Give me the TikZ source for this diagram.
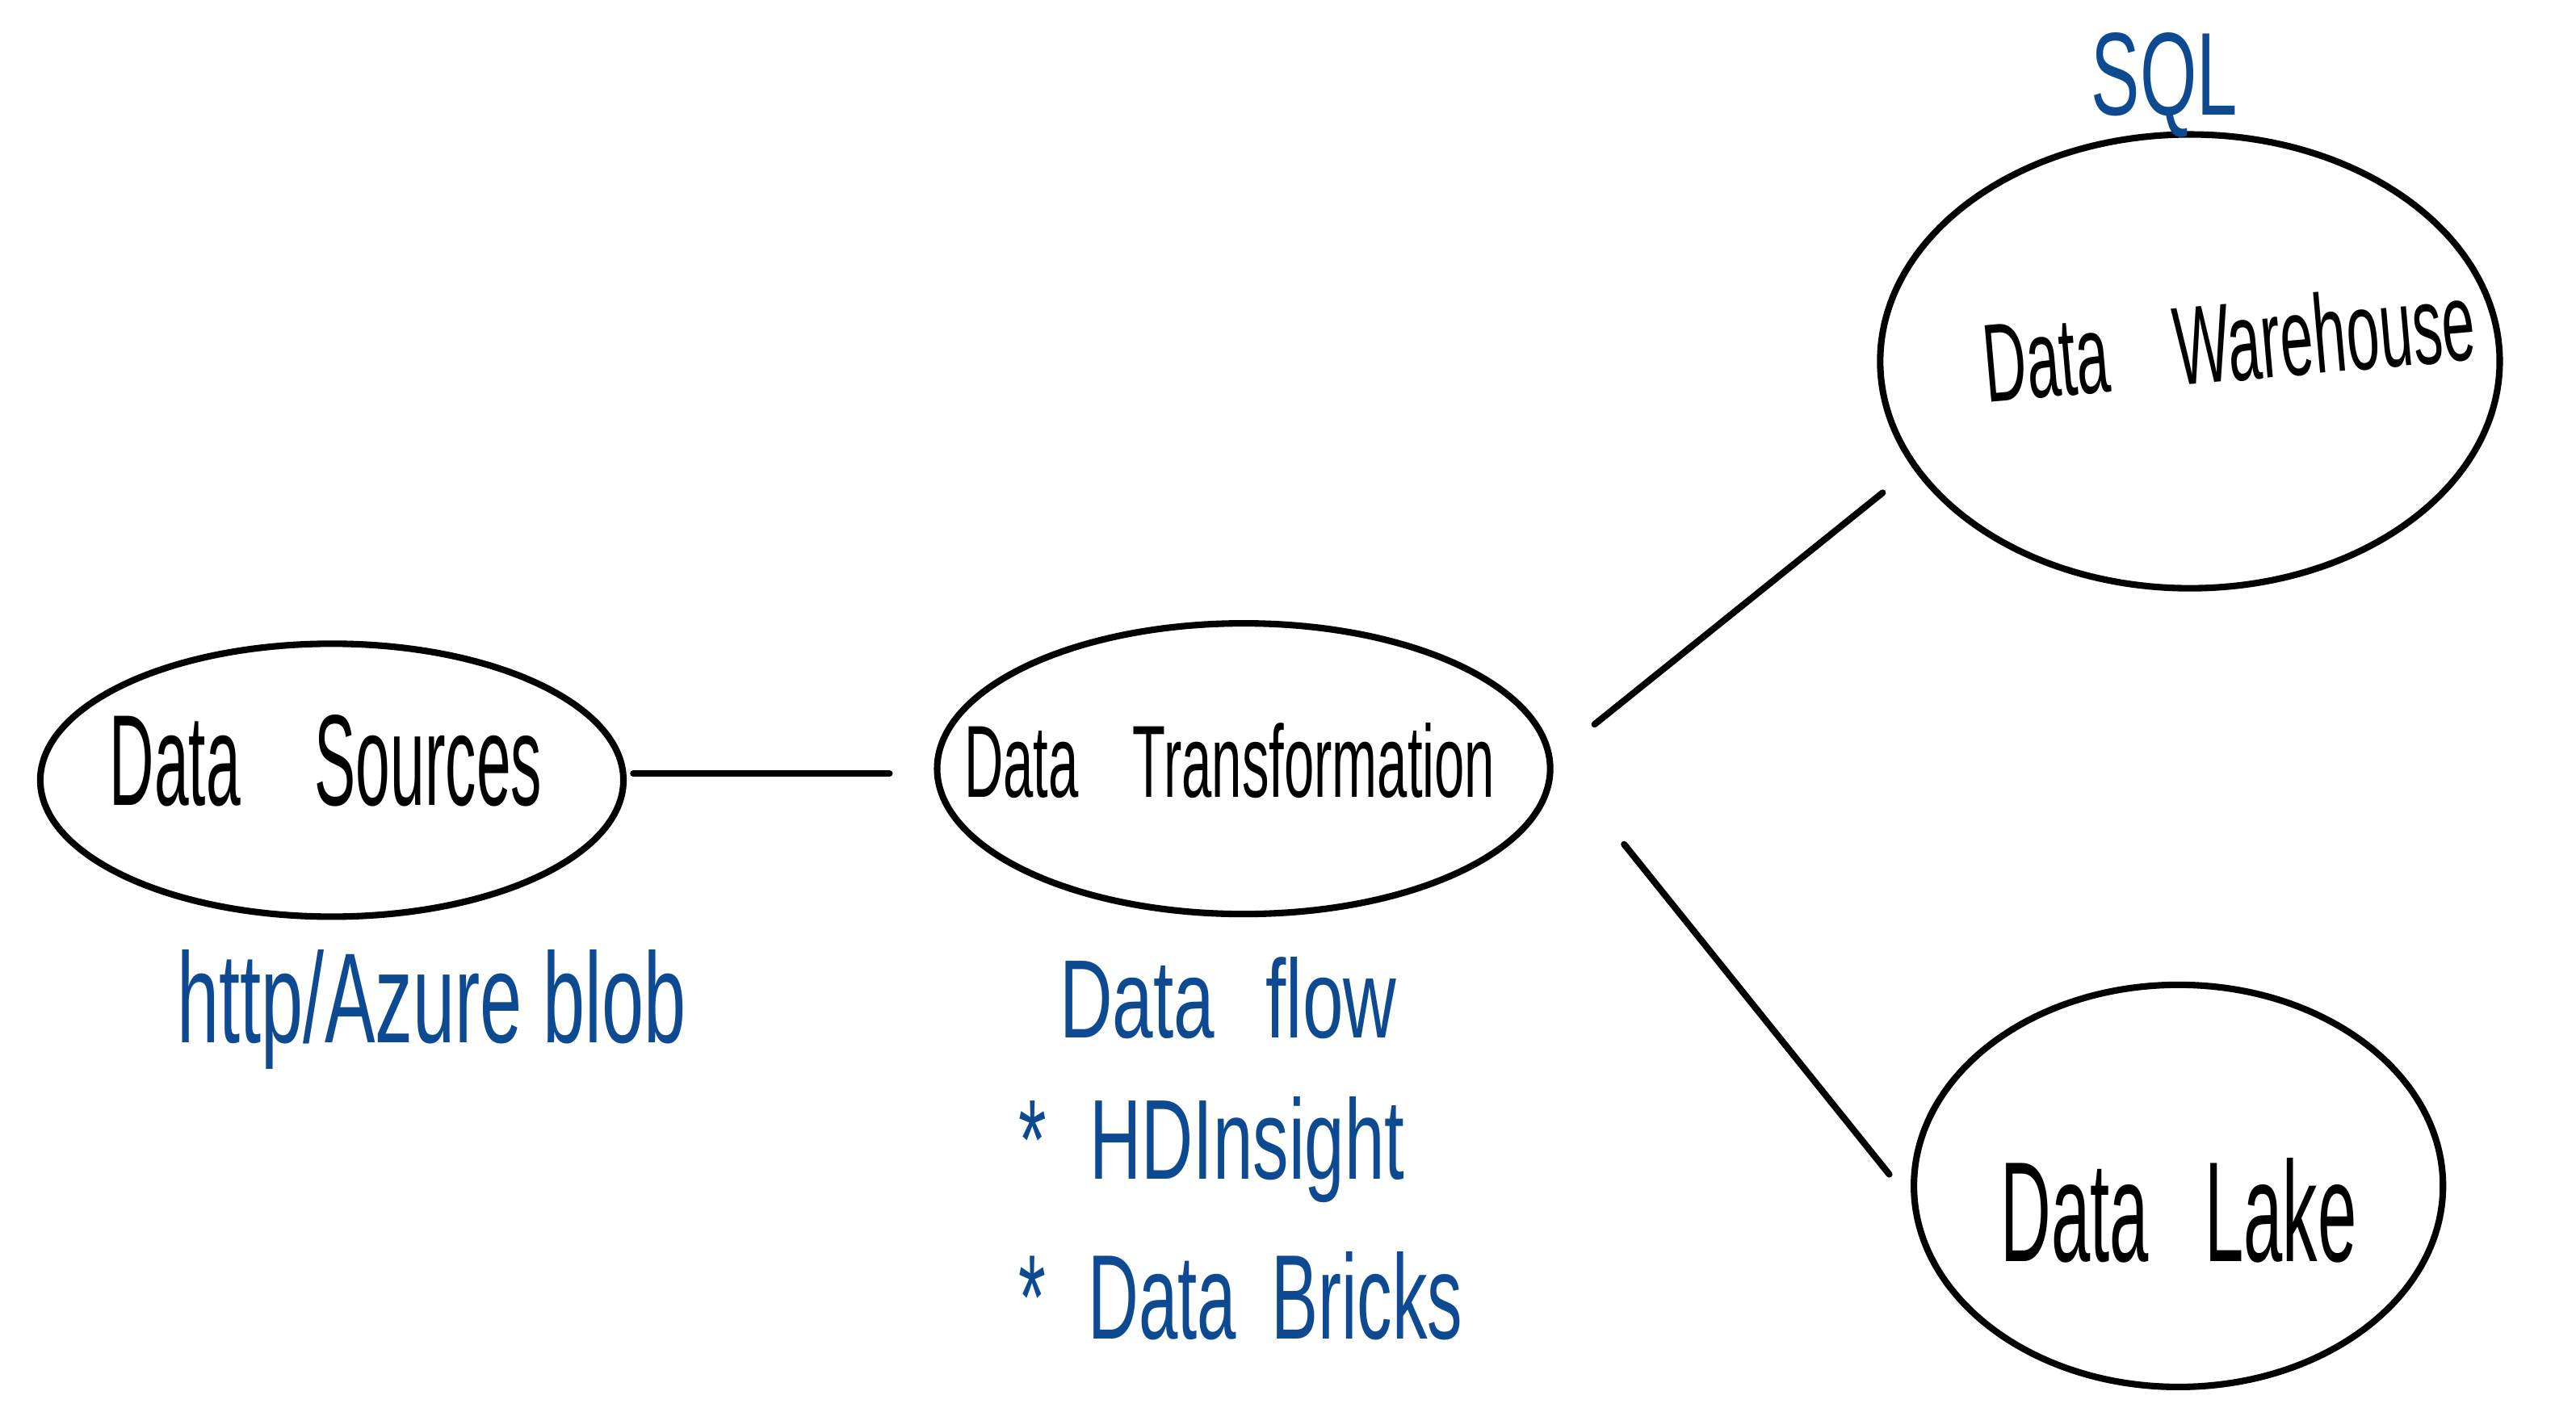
\documentclass[tikz,border=0pt]{standalone}
\usepackage{fontspec}
\setmainfont{Liberation Sans}
\usetikzlibrary{shapes.geometric}
\definecolor{inkblue}{HTML}{0D4A91}
\newcommand\blobtxt[6]{\smash{\rlap{\kern#1\raisebox{#2}{\rotatebox{#3}{\resizebox{#4}{#5}{#6}}}}}}
\newcommand\fitbox[3]{\resizebox{#1}{#2}{#3}}
\begin{document}
\begin{tikzpicture}[x=0.020345cm,y=-0.020345cm]
\tikzset{
  blob/.style={draw=black, line width=2.3pt, ellipse, inner sep=0pt, outer sep=0pt},
  conn/.style={draw=black, line width=2.3pt, line cap=round},
  note/.style={text=inkblue, anchor=base west, inner sep=0pt, outer sep=0pt}
}
\useasboundingbox (0,0) rectangle (1568,857);

% blobs
\node[blob, minimum width=7.22cm, minimum height=3.38cm] (ds) at (202,475)
  {\blobtxt{-2.75cm}{-0.31cm}{0}{5.35cm}{1.12cm}{Data\hspace{1.2em}Sources}};
\node[blob, minimum width=7.59cm, minimum height=3.60cm] (dt) at (757,468)
  {\blobtxt{-3.46cm}{-0.35cm}{0}{6.57cm}{0.92cm}{Data\hspace{1em}Transformation}};
\node[blob, minimum width=7.67cm, minimum height=5.62cm] (dw) at (1333,220)
  {\blobtxt{-2.60cm}{-0.51cm}{5}{6.10cm}{1.00cm}{Data\hspace{1.1em}Warehouse}};
\node[blob, minimum width=6.55cm, minimum height=4.98cm] (dl) at (1326,722)
  {\blobtxt{-2.20cm}{-0.94cm}{0}{4.41cm}{1.28cm}{Data\hspace{0.8em}Lake}};

% blue notes
\node[note] (sql) at (1273,70) {\fitbox{1.81cm}{1.02cm}{SQL}};
\node[note] (http) at (108,635) {\fitbox{6.30cm}{1.15cm}{http/Azure blob}};
\node[note] (flow) at (645,632) {\fitbox{4.17cm}{1.00cm}{Data\hspace{0.7em}flow}};
\node[note] (hdi) at (620,718) {\fitbox{4.78cm}{1.02cm}{*\hspace{0.6em}HDInsight}};
\node[note] (bricks) at (620,815) {\fitbox{5.50cm}{1.08cm}{*\hspace{0.6em}Data\hspace{0.5em}Bricks}};

% connectors
\draw[conn] ([shift={(6,-4)}]ds.east) -- ([shift={(-29,3)}]dt.west);
\draw[conn] ([shift={(27,-27)}]dt.east) -- ([shift={(1.5,80)}]dw.west);
\draw[conn] ([shift={(45,46)}]dt.east) -- ([shift={(-15,-7)}]dl.west);
\end{tikzpicture}
\end{document}
